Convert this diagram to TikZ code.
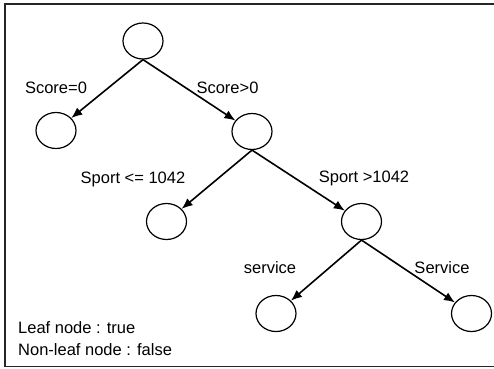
\documentclass[tikz,border=0pt]{standalone}
\usepackage{fontspec}
\setmainfont{Liberation Sans}
\usetikzlibrary{shapes.geometric,arrows.meta}
\begin{document}
\begin{tikzpicture}[x=1pt,y=-1pt,
  treenode/.style={draw,ellipse,line width=1.2pt,minimum width=40pt,minimum height=36pt,inner sep=0pt},
  branch/.style={line width=1.6pt,-{Latex[length=11pt,width=9pt]}},
  lbl/.style={inner sep=0pt,font=\fontsize{16.5}{19}\selectfont},
  note/.style={lbl,anchor=west}]
\useasboundingbox (0,0) rectangle (494,368);
% open frame around the tree (right side runs off the page)
\draw[line width=1.3pt,black!85] (494,4) -- (5,4) -- (5,366.5) -- (494,366.5);

% tree nodes
\node[treenode] (root) at (143,41) {};
\node[treenode] (zero) at (56,130.5) {};
\node[treenode] (pos) at (252,131.5) {};
\node[treenode] (low) at (166.5,221.5) {};
\node[treenode] (high) at (361.5,221.5) {};
\node[treenode] (svc) at (276,313.5) {};
\node[treenode] (Svc) at (471.5,313.5) {};

% branches
\draw[branch] (root.south) -- (zero);
\draw[branch] (root.south) -- (pos);
\draw[branch] (pos.south) -- (low);
\draw[branch] (pos.south) -- (high);
\draw[branch] (high.south) -- (svc);
\draw[branch] (high.south) -- (Svc);

% branch conditions
\node[lbl] (l1) at (56,88) {Score=0};
\node[lbl] (l2) at (227.5,88) {Score>0};
\node[lbl] (l3) at (133,179) {Sport <= 1042};
\node[lbl] (l4) at (364,178) {Sport >1042};
\node[lbl] (l5) at (270,268) {service};
\node[lbl] (l6) at (442,268) {Service};

% legend
\node[note] (n1) at (18,328) {Leaf node : true};
\node[note] (n2) at (18,350) {Non-leaf node : false};
\end{tikzpicture}
\end{document}
